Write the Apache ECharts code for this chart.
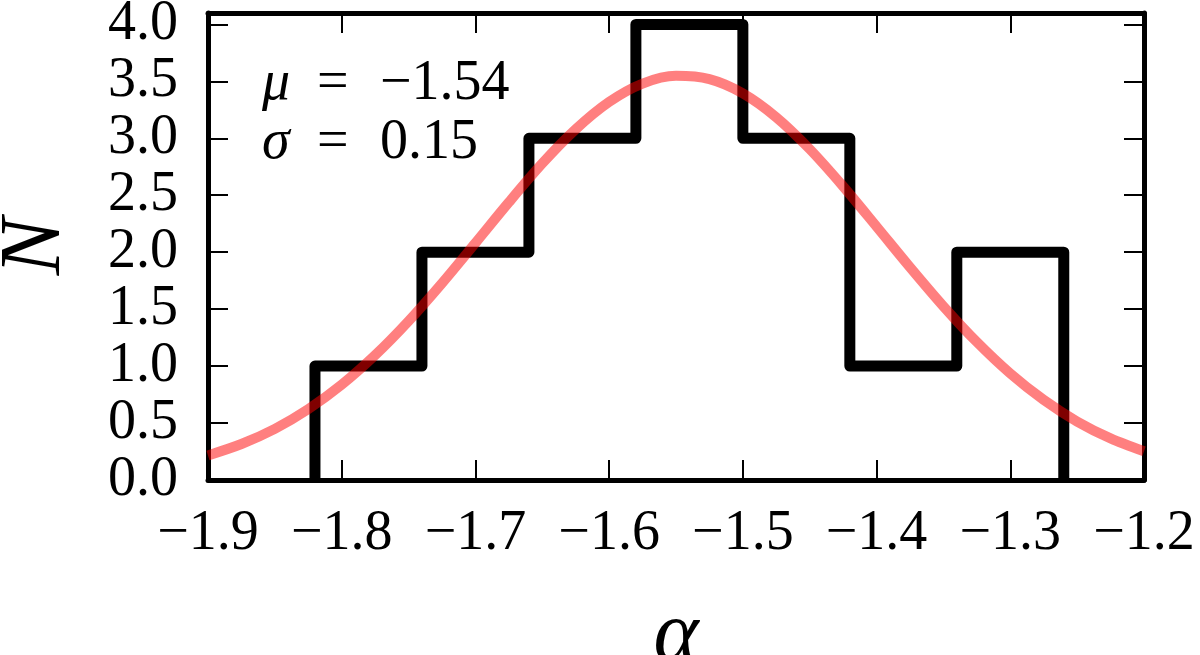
<!DOCTYPE html>
<html><head><meta charset="utf-8">
<script src="https://cdn.jsdelivr.net/npm/echarts@6/dist/echarts.min.js"></script>
<style>html,body{margin:0;padding:0;background:#fff}#c{width:1200px;height:655px}</style>
</head><body><div id="c"></div>
<script>
// Histogram of alpha values
const binEdges = [-1.82, -1.74, -1.66, -1.58, -1.50, -1.42, -1.34, -1.26];
const binCounts = [1, 2, 3, 4, 3, 1, 2];
// Fitted curve
const fitX = [-1.900,-1.875,-1.850,-1.825,-1.800,-1.775,-1.750,-1.725,-1.700,-1.675,-1.650,-1.625,-1.600,-1.575,-1.550,-1.525,-1.500,-1.475,-1.450,-1.425,-1.400,-1.375,-1.350,-1.325,-1.300,-1.275,-1.250,-1.225,-1.200];
const fitY = [0.216,0.316,0.449,0.622,0.837,1.096,1.395,1.728,2.081,2.438,2.779,3.079,3.319,3.480,3.548,3.519,3.394,3.184,2.905,2.578,2.225,1.868,1.525,1.211,0.935,0.703,0.513,0.365,0.252];
const muSym = 'μ', sigmaSym = 'σ', eqSym = '=';
const muLabel = '−1.54';
const sigmaLabel = '0.15';
const xTitle = 'α';
const yTitle = 'N';

const FONT = 'Liberation Serif';
const histPts = [];
histPts.push([binEdges[0], 0]);
for (let i = 0; i < binCounts.length; i++) {
  histPts.push([binEdges[i], binCounts[i]]);
  histPts.push([binEdges[i + 1], binCounts[i]]);
}
histPts.push([binEdges[binEdges.length - 1], 0]);
const curvePts = fitX.map((x, i) => [x, fitY[i]]);

const fmt = v => v.toFixed(1).replace('-', '−');
const line = {show: true, onZero: false, lineStyle: {color: '#000', width: 5}};
const tick = {show: true, inside: true, length: 20, lineStyle: {color: '#000', width: 2}};
const txt = (t, left, top, italic) => ({type: 'text', left: left, top: top, style: {
  text: t, font: (italic ? 'italic ' : '') + '56px "Liberation Serif"', fill: '#000'}});

const chart = echarts.init(document.getElementById('c'));
chart.setOption({
  animation: false,
  backgroundColor: '#fff',
  grid: {left: 208, right: 56, top: 13, bottom: 175, containLabel: false, outerBoundsMode: 'none'},
  xAxis: [
    {type: 'value', min: -1.9, max: -1.2, interval: 0.1, position: 'bottom',
     axisLine: line, axisTick: tick, splitLine: {show: false},
     axisLabel: {formatter: fmt, fontSize: 56, color: '#000', fontFamily: FONT, margin: 26, showMinLabel: true, showMaxLabel: true},
     name: xTitle, nameLocation: 'middle', nameGap: 114,
     nameTextStyle: {fontSize: 86, fontStyle: 'italic', fontFamily: FONT, color: '#000'}},
    {type: 'value', min: -1.9, max: -1.2, interval: 0.1, position: 'top',
     axisLine: line, axisTick: tick, splitLine: {show: false}, axisLabel: {show: false}}
  ],
  yAxis: [
    {type: 'value', min: 0, max: 4.1, interval: 0.5, position: 'left',
     axisLine: line, axisTick: tick, splitLine: {show: false},
     axisLabel: {formatter: v => (v > 4.05 ? '' : fmt(v)), fontSize: 56, color: '#000', fontFamily: FONT, margin: 30, showMinLabel: true},
     name: yTitle, nameLocation: 'middle', nameGap: 129, nameRotate: 90,
     nameTextStyle: {fontSize: 86, fontStyle: 'italic', fontFamily: FONT, color: '#000'}},
    {type: 'value', min: 0, max: 4.1, interval: 0.5, position: 'right',
     axisLine: line, axisTick: tick, splitLine: {show: false}, axisLabel: {show: false}}
  ],
  series: [
    {type: 'line', data: histPts, showSymbol: false, symbol: 'none',
     lineStyle: {color: '#000', width: 11, join: 'round', cap: 'butt'}, z: 2},
    {type: 'line', data: curvePts, showSymbol: false, symbol: 'none', smooth: 0.3,
     lineStyle: {color: 'rgba(255,0,0,0.5)', width: 10}, z: 3}
  ],
  graphic: [
    txt(muSym, 262, 56, true), txt(eqSym, 317, 56, false), txt(muLabel, 380, 56, false),
    txt(sigmaSym, 262, 115, true), txt(eqSym, 317, 115, false), txt(sigmaLabel, 380, 115, false)
  ]
});
</script>
</body></html>
